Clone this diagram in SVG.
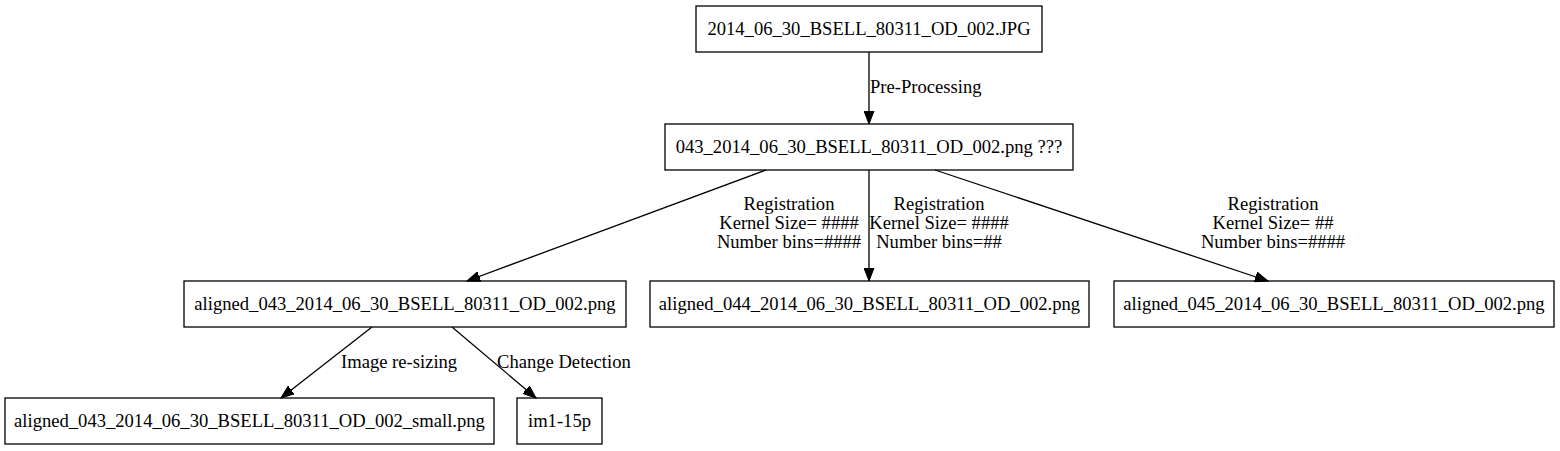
<svg xmlns="http://www.w3.org/2000/svg" width="1560" height="451" viewBox="0 0 1560 451">
<style>
.n rect{fill:#fff;stroke:#000;stroke-width:1.3}
text{font-family:"Liberation Serif","Times New Roman",serif;font-size:18.6px;fill:#000}
.n text{text-anchor:middle}
.e line{stroke:#000;stroke-width:1.3;marker-end:url(#ah)}
.c{text-anchor:middle}
</style>
<defs>
<marker id="ah" markerUnits="userSpaceOnUse" markerWidth="14" markerHeight="11" refX="13" refY="5" orient="auto" viewBox="0 0 14 10">
<path d="M0,0 L13,5 L0,10 z" fill="#000" stroke="#000"/>
</marker>
</defs>
<rect width="1560" height="451" fill="#fff"/>
<g id="n1" class="n"><rect x="696" y="6" width="346" height="46"/><text x="869" y="35">2014_06_30_BSELL_80311_OD_002.JPG</text></g>
<g id="n2" class="n"><rect x="665" y="124" width="408" height="46"/><text x="869" y="153">043_2014_06_30_BSELL_80311_OD_002.png ???</text></g>
<g id="n3" class="n"><rect x="184" y="281" width="442" height="46"/><text x="405" y="310">aligned_043_2014_06_30_BSELL_80311_OD_002.png</text></g>
<g id="n4" class="n"><rect x="650" y="281" width="439" height="46"/><text x="869.5" y="310">aligned_044_2014_06_30_BSELL_80311_OD_002.png</text></g>
<g id="n5" class="n"><rect x="1114" y="281" width="440" height="46"/><text x="1334" y="310">aligned_045_2014_06_30_BSELL_80311_OD_002.png</text></g>
<g id="n6" class="n"><rect x="5" y="398" width="489" height="46"/><text x="249.5" y="427">aligned_043_2014_06_30_BSELL_80311_OD_002_small.png</text></g>
<g id="n7" class="n"><rect x="517" y="398" width="85" height="46"/><text x="559.5" y="427">im1-15p</text></g>
<g id="edges" class="e">
<line x1="869" y1="52" x2="869" y2="124"/>
<line x1="766" y1="170" x2="467" y2="281"/>
<line x1="869" y1="170" x2="869" y2="281"/>
<line x1="935" y1="170" x2="1268" y2="281"/>
<line x1="372" y1="327" x2="281" y2="398"/>
<line x1="452" y1="327" x2="536" y2="398"/>
</g>
<g id="labels">
<text x="870" y="93">Pre-Processing</text>
<text class="c" x="789" y="210">Registration</text>
<text class="c" x="789" y="229">Kernel Size= ####</text>
<text class="c" x="789" y="248">Number bins=####</text>
<text class="c" x="939" y="210">Registration</text>
<text class="c" x="939" y="229">Kernel Size= ####</text>
<text class="c" x="939" y="248">Number bins=##</text>
<text class="c" x="1273" y="210">Registration</text>
<text class="c" x="1273" y="229">Kernel Size= ##</text>
<text class="c" x="1273" y="248">Number bins=####</text>
<text x="341" y="368">Image re-sizing</text>
<text x="497" y="368">Change Detection</text>
</g>
</svg>
